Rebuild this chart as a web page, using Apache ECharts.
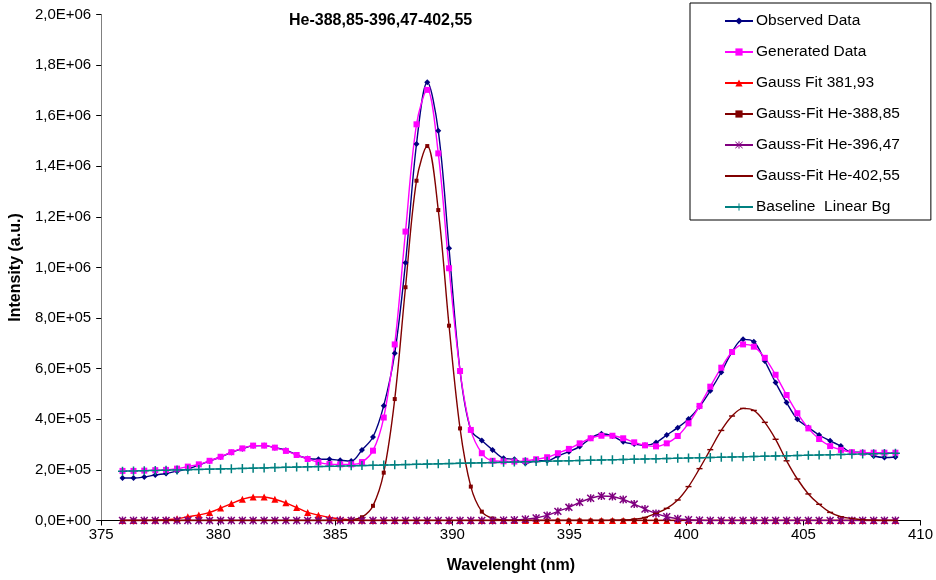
<!DOCTYPE html>
<html><head><meta charset="utf-8">
<script src="https://cdn.jsdelivr.net/npm/echarts@6/dist/echarts.min.js"></script>
<style>html,body{margin:0;padding:0;background:#fff}#c{width:936px;height:580px}</style>
</head><body><div id="c"></div>
<script>
// values in units of 1e5 (a.u.)
const UNIT = 1e5;
const wavelength = [
375.91,376.38,376.84,377.31,377.77,378.24,378.70,379.17,379.63,380.10,
380.56,381.03,381.49,381.96,382.42,382.89,383.35,383.82,384.28,384.75,
385.21,385.68,386.14,386.61,387.07,387.54,388.00,388.47,388.93,389.40,
389.86,390.33,390.79,391.26,391.72,392.19,392.65,393.12,393.58,394.05,
394.51,394.98,395.44,395.91,396.37,396.84,397.30,397.77,398.23,398.70,
399.16,399.63,400.09,400.56,401.02,401.49,401.95,402.42,402.88,403.35,
403.81,404.28,404.74,405.21,405.67,406.14,406.60,407.07,407.53,408.00,
408.46,408.93];
const observed = [
1.68,1.68,1.72,1.80,1.86,1.95,2.04,2.19,2.35,2.51,
2.69,2.84,2.95,2.96,2.88,2.78,2.59,2.45,2.42,2.42,
2.38,2.35,2.79,3.30,4.54,6.61,10.19,14.88,17.32,15.41,
10.76,5.92,3.58,3.16,2.79,2.46,2.42,2.26,2.36,2.36,
2.55,2.72,2.92,3.25,3.43,3.34,3.11,3.02,2.97,3.08,
3.38,3.67,4.01,4.50,5.13,5.86,6.66,7.16,7.07,6.30,
5.45,4.66,4.00,3.68,3.38,3.15,2.94,2.70,2.70,2.55,
2.49,2.51];
const generated = [
1.96,1.96,1.97,1.99,2.00,2.05,2.13,2.22,2.36,2.52,
2.70,2.85,2.96,2.96,2.88,2.75,2.59,2.43,2.30,2.23,
2.22,2.22,2.31,2.76,4.07,6.96,11.42,15.66,17.02,14.51,
9.97,5.91,3.58,2.66,2.36,2.34,2.33,2.36,2.42,2.50,
2.66,2.83,3.05,3.25,3.35,3.35,3.25,3.09,2.97,2.93,
3.05,3.34,3.84,4.53,5.29,6.04,6.66,6.96,6.87,6.43,
5.76,4.96,4.24,3.64,3.22,2.94,2.79,2.70,2.68,2.68,
2.68,2.68];
const gauss381 = [
0,0,0,0.01,0.03,0.07,0.15,0.22,0.32,0.49,
0.67,0.84,0.93,0.93,0.84,0.70,0.51,0.32,0.21,0.12,
0.06,0.03,0.01,0,0,0,0,0,0,0,
0,0,0,0,0,0,0,0,0,0,
0,0,0,0,0,0,0,0,0,0,
0,0,0,0,0,0,0,0,0,0,
0,0,0,0,0,0,0,0,0,0,
0,0];
const gauss388 = [
0,0,0,0,0,0,0,0,0,0,
0,0,0,0,0,0,0,0,0,0,
0.01,0.03,0.13,0.58,1.89,4.80,9.22,13.43,14.80,12.27,
7.70,3.64,1.34,0.35,0.08,0.02,0,0,0,0,
0,0,0,0,0,0,0,0,0,0,
0,0,0,0,0,0,0,0,0,0,
0,0,0,0,0,0,0,0,0,0,
0,0];
const gauss396 = [
0,0,0,0,0,0,0,0,0,0,
0,0,0,0,0,0,0,0,0,0,
0,0,0,0,0,0,0,0,0,0,
0,0,0,0,0,0.01,0.02,0.05,0.10,0.20,
0.36,0.52,0.72,0.88,0.97,0.95,0.83,0.65,0.45,0.28,
0.15,0.07,0.03,0.01,0,0,0,0,0,0,
0,0,0,0,0,0,0,0,0,0,
0,0];
const gauss402 = [
0,0,0,0,0,0,0,0,0,0,
0,0,0,0,0,0,0,0,0,0,
0,0,0,0,0,0,0,0,0,0,
0,0,0,0,0,0,0,0,0,0,
0,0,0,0,0,0.01,0.02,0.05,0.12,0.28,
0.48,0.81,1.34,2.05,2.80,3.56,4.13,4.43,4.35,3.88,
3.21,2.36,1.64,1.05,0.64,0.32,0.15,0.08,0.03,0.01,
0,0];
const baseline = [
1.95,1.96,1.97,1.98,1.99,2.00,2.01,2.02,2.03,2.04,
2.05,2.06,2.07,2.08,2.09,2.10,2.11,2.12,2.13,2.14,
2.15,2.16,2.17,2.18,2.19,2.20,2.21,2.22,2.23,2.24,
2.25,2.26,2.27,2.28,2.29,2.30,2.31,2.32,2.33,2.34,
2.35,2.36,2.37,2.38,2.39,2.40,2.41,2.42,2.43,2.44,
2.45,2.46,2.47,2.48,2.49,2.50,2.51,2.52,2.53,2.54,
2.55,2.56,2.57,2.58,2.59,2.60,2.61,2.62,2.63,2.64,
2.65,2.66];
const seriesNames = ['Observed Data','Generated Data','Gauss Fit 381,93','Gauss-Fit He-388,85','Gauss-Fit He-396,47','Gauss-Fit He-402,55','Baseline  Linear Bg'];
const titleText = 'He-388,85-396,47-402,55';
const xName = 'Wavelenght (nm)';
const yName = 'Intensity (a.u.)';
const xMin = 375, xMax = 410, xStep = 5;
const yMin = 0, yMax = 2e6, yStep = 2e5;

const FONT = '"Liberation Sans", Arial, sans-serif';
function sci(v){
  if (v === 0) return '0,0E+00';
  const e = Math.floor(Math.log10(v) + 1e-9);
  const m = v / Math.pow(10, e);
  return m.toFixed(1).replace('.', ',') + 'E+' + String(e).padStart(2, '0');
}
function pts(arr){ return wavelength.map((w, i) => [w, arr[i] * UNIT]); }

const STAR = 'path://M5,0L5,10M0.7,0.7L9.3,9.3M0.7,9.3L9.3,0.7';
const PLUS = 'path://M5,0L5,10M0,5L10,5';
const DASH = 'path://M0,0M0,3.8L10,3.8L10,6.2L0,6.2ZM10,10';

function mk(name, arr, color, symbol, size, extraItem){
  return {
    name: name, type: 'line', data: pts(arr), smooth: 0.35,
    symbol: symbol, symbolSize: size, symbolKeepAspect: true,
    lineStyle: {color: color, width: 1.4},
    itemStyle: Object.assign({color: color}, extraItem || {}),
    emphasis: {disabled: true}
  };
}

const legendData = seriesNames.map((n, i) => {
  if (i === 4 || i === 6) return {name: n, itemStyle: {borderWidth: 1}};
  return {name: n};
});

const chart = echarts.init(document.getElementById('c'), null, {renderer: 'canvas'});
chart.setOption({
  animation: false,
  backgroundColor: '#fff',
  textStyle: {fontFamily: FONT},
  title: {text: titleText, left: 284, top: 8,
    textStyle: {fontFamily: FONT, fontSize: 16, fontWeight: 'bold', color: '#000'}},
  grid: {left: 101, right: 15, top: 14.5, bottom: 59.5, containLabel: false},
  legend: {
    orient: 'vertical', left: 690, top: 3,
    itemWidth: 28, itemHeight: 9, itemGap: 15,
    padding: [10, 31, 5, 34],
    borderColor: '#000', borderWidth: 1, backgroundColor: '#fff',
    textStyle: {fontFamily: FONT, fontSize: 15.5, color: '#000', padding: [0, 0, 0, -2]},
    data: legendData
  },
  xAxis: {
    type: 'value', min: xMin, max: xMax, interval: xStep,
    name: xName, nameLocation: 'middle', nameGap: 37,
    nameTextStyle: {fontFamily: FONT, fontSize: 16, fontWeight: 'bold', color: '#000'},
    axisLine: {onZero: false, lineStyle: {color: '#000', width: 1}},
    axisTick: {show: true, inside: false, length: 5, lineStyle: {color: '#000'}},
    axisLabel: {fontFamily: FONT, fontSize: 15, color: '#000', margin: 7},
    splitLine: {show: false}
  },
  yAxis: {
    type: 'value', min: yMin, max: yMax, interval: yStep,
    name: yName, nameLocation: 'middle', nameGap: 72, nameRotate: 90,
    nameTextStyle: {fontFamily: FONT, fontSize: 16, fontWeight: 'bold', color: '#000'},
    axisLine: {show: true, lineStyle: {color: '#808080', width: 1}},
    axisTick: {show: true, inside: false, length: 5, lineStyle: {color: '#000'}},
    axisLabel: {fontFamily: FONT, fontSize: 15, color: '#000', margin: 10, formatter: sci},
    splitLine: {show: false}
  },
  series: [
    mk(seriesNames[0], observed, '#000080', 'diamond', 6),
    mk(seriesNames[1], generated, '#FF00FF', 'rect', 6),
    mk(seriesNames[2], gauss381, '#FF0000', 'triangle', 7),
    mk(seriesNames[3], gauss388, '#800000', 'rect', 4),
    mk(seriesNames[4], gauss396, '#800080', STAR, 8, {color: 'rgba(0,0,0,0)', borderColor: '#800080', borderWidth: 1.5}),
    mk(seriesNames[5], gauss402, '#800000', DASH, 6),
    mk(seriesNames[6], baseline, '#008080', PLUS, 9, {color: 'rgba(0,0,0,0)', borderColor: '#008080', borderWidth: 1.5})
  ]
});
</script>
</body></html>
